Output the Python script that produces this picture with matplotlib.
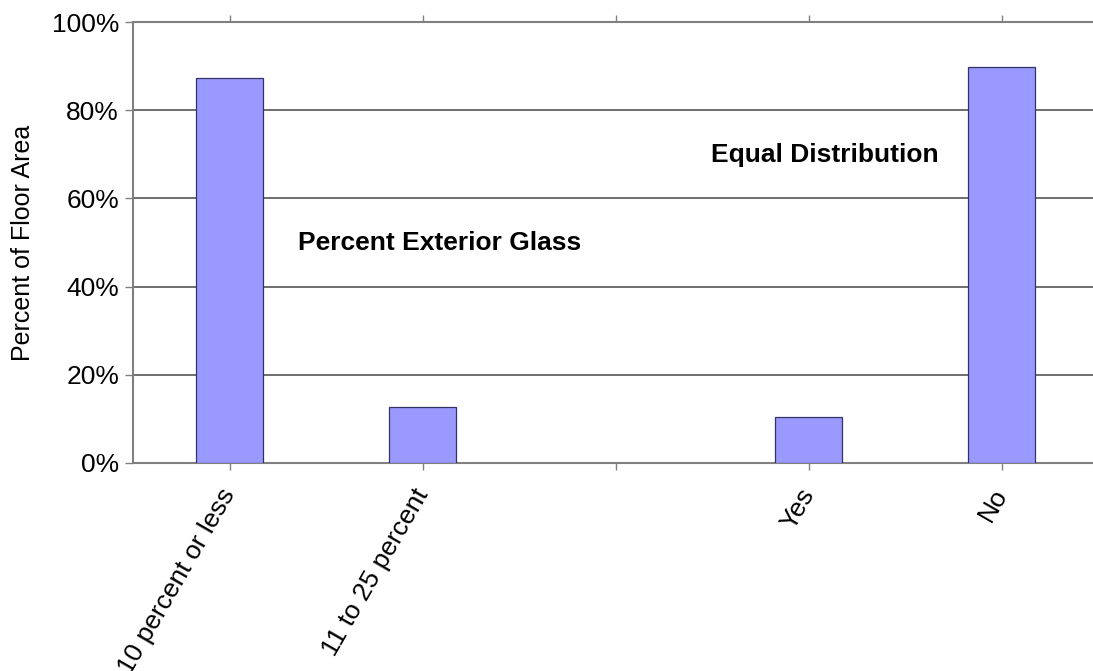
import matplotlib
matplotlib.use("Agg")
import matplotlib.pyplot as plt
import numpy as np

matplotlib.rcParams['font.family'] = ['Liberation Sans', 'DejaVu Sans']

categories = ["10 percent or less", "11 to 25 percent", "", "Yes", "No"]
values = [87.3, 12.7, np.nan, 10.4, 89.8]
y_ticks = [0, 20, 40, 60, 80, 100]

fig = plt.figure(figsize=(10.93, 6.71), dpi=100)
ax = fig.add_axes([133 / 1093, 1 - 463 / 671, 965 / 1093, 441 / 671])

x = np.arange(len(categories))
ax.bar(x, values, width=0.35, color="#9999ff", edgecolor="#333366", linewidth=0.9, zorder=3)

ax.set_xlim(-0.5, len(categories) - 0.5)
ax.set_ylim(0, 100)
ax.set_yticks(y_ticks)
ax.set_yticklabels([f"{v}%" for v in y_ticks], fontsize=19)
ax.set_xticks(x)
ax.set_xticklabels(categories, fontsize=19, rotation=60, ha="right", va="center", rotation_mode="anchor")
for lbl in ax.get_xticklabels():
    lbl.set_y(-0.035)

ax.tick_params(axis="x", top=True, direction="out", length=5, color="#808080", width=1)
ax.tick_params(axis="y", direction="out", length=6, color="#808080", width=1, pad=4)

for y in y_ticks[1:-1]:
    ax.axhline(y, color="#555555", linewidth=1.2, zorder=1)

for side in ["left", "bottom", "top"]:
    ax.spines[side].set_color("#808080")
    ax.spines[side].set_linewidth(1.5)
ax.spines["right"].set_visible(False)

ax.set_ylabel("Percent of Floor Area", fontsize=18, labelpad=12)

ax.text(0.318, 0.5, "Percent Exterior Glass", transform=ax.transAxes, fontsize=19, fontweight="bold",
        ha="center", va="center")
ax.text(0.717, 0.698, "Equal Distribution", transform=ax.transAxes, fontsize=19, fontweight="bold",
        ha="center", va="center")

fig.savefig("out.png", dpi=100)
